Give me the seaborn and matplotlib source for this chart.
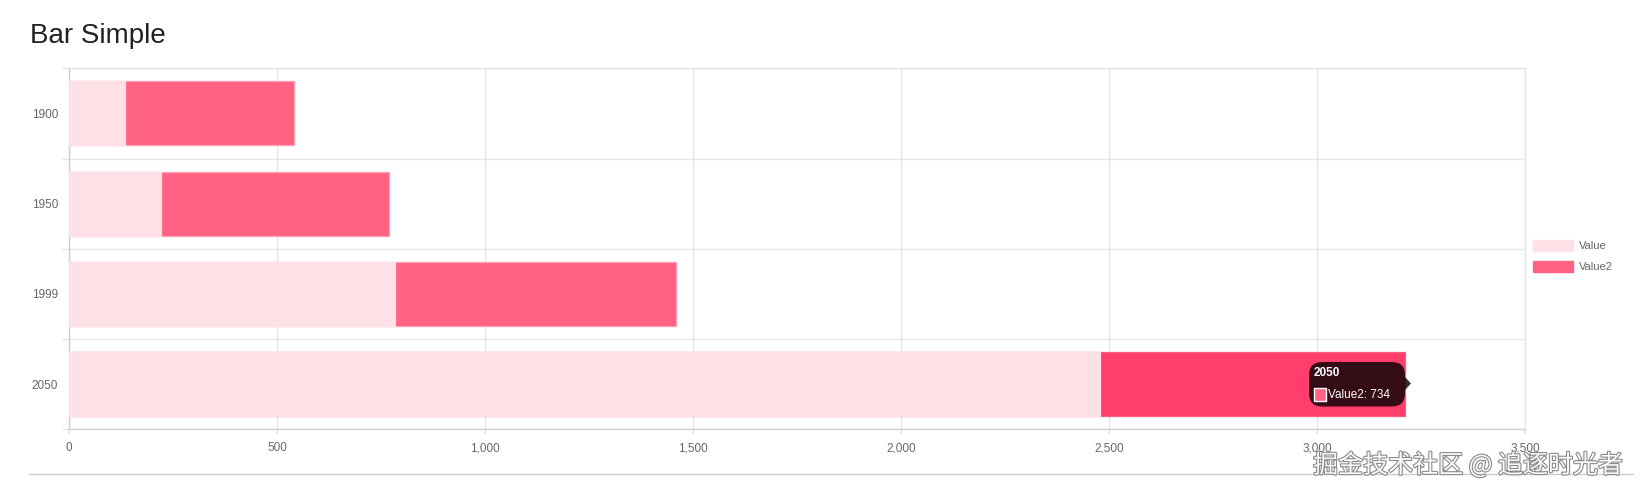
import matplotlib
matplotlib.use("Agg")
import matplotlib.pyplot as plt
import seaborn as sns
import pandas as pd
from matplotlib.patches import Patch, FancyBboxPatch, Polygon, Rectangle
from matplotlib.lines import Line2D
from matplotlib.ticker import FuncFormatter, FixedLocator
import matplotlib.patheffects as pe

# ---- data ----
years = ["1900", "1950", "1999", "2050"]
value = [133, 221, 783, 2478]
value2 = [408, 547, 675, 734]
x_ticks = [0, 500, 1000, 1500, 2000, 2500, 3000, 3500]
series_names = ["Value", "Value2"]
title = "Bar Simple"
tooltip_title = "2050"
tooltip_label = "Value2: 734"
watermark = "掘金技术社区 @ 追逐时光者"

df = pd.DataFrame({"year": years, "Value": value, "Value2": value2})
df["Total"] = df["Value"] + df["Value2"]

sns.set_theme(style="white")
plt.rcParams["font.family"] = ["Liberation Sans", "DejaVu Sans"]

W, H = 1641, 494
fig = plt.figure(figsize=(W / 100, H / 100), dpi=100)
fig.patch.set_facecolor("white")

L, R, T, B = 69.3, 1525.3, 68.3, 429.3
ax = fig.add_axes([L / W, 1 - B / H, (R - L) / W, (B - T) / H])

c_light = "#ffe0e6"
c_main = "#ff6384"
c_hover = "#ff3e6b"
grid_c = "#e6e6e6"
axis_c = "#cfcfcf"

sns.barplot(data=df, y="year", x="Total", order=years, orient="h", color=c_main,
            saturation=1, width=0.71, errorbar=None, ax=ax,
            edgecolor="#ff9db2", linewidth=0.9, zorder=2)
sns.barplot(data=df, y="year", x="Value", order=years, orient="h", color=c_light,
            saturation=1, width=0.71, errorbar=None, ax=ax,
            edgecolor=c_light, linewidth=0.9, zorder=3)
ax.containers[0].patches[3].set_facecolor(c_hover)
ax.containers[0].patches[3].set_edgecolor("#ff5c80")

ax.set_xlim(0, 3500)
ax.set_ylim(len(years) - 0.5, -0.5)
ax.set_xlabel("")
ax.set_ylabel("")

ax.xaxis.set_major_locator(FixedLocator(x_ticks))
ax.xaxis.set_major_formatter(FuncFormatter(lambda v, p: f"{int(v):,}"))
ax.grid(True, axis="x", color=grid_c, linewidth=1, zorder=0)
ax.set_axisbelow(True)

ax.yaxis.set_minor_locator(FixedLocator([i + 0.5 for i in range(-1, len(years))]))
ax.grid(True, axis="y", which="minor", color=grid_c, linewidth=1)
ax.grid(False, axis="y", which="major")

ax.tick_params(axis="x", which="major", length=3.5, color=grid_c, labelsize=8.5,
               labelcolor="#666666", pad=6, bottom=True)
ax.tick_params(axis="y", which="major", length=0, labelsize=8.5, labelcolor="#666666", pad=8)
ax.tick_params(axis="y", which="minor", length=5, color=grid_c, left=True)

for s in ["top", "right"]:
    ax.spines[s].set_color(grid_c)
    ax.spines[s].set_linewidth(1)
for s in ["left", "bottom"]:
    ax.spines[s].set_color(axis_c)
    ax.spines[s].set_linewidth(1)

# title
fig.text(30 / W, 1 - 42.6 / H, title, fontsize=20, color="#222222", va="baseline", ha="left")

# legend
handles = [Patch(facecolor=c_light, edgecolor=c_light), Patch(facecolor=c_main, edgecolor=c_main)]
leg = fig.legend(handles, series_names, loc="upper left",
                 bbox_to_anchor=(1532.7 / W, 1 - 240.0 / H), frameon=False,
                 fontsize=8, handlelength=3.6, handleheight=1.2, handletextpad=0.6,
                 labelspacing=0.85, borderpad=0, borderaxespad=0)
for t in leg.get_texts():
    t.set_color("#666666")

# tooltip (pixel -> figure fraction)
def fx(x):
    return x / W

def fy(y):
    return 1 - y / H

box = FancyBboxPatch((fx(1309), fy(406.5)), fx(1405) - fx(1309), fy(362) - fy(406.5),
                     boxstyle="round,pad=0,rounding_size=0.008", transform=fig.transFigure,
                     facecolor="black", alpha=0.8, edgecolor="none", mutation_aspect=W / H)
fig.add_artist(box)
caret = Polygon([(fx(1405), fy(377)), (fx(1411), fy(383.5)), (fx(1405), fy(390))],
                closed=True, transform=fig.transFigure, facecolor="black", alpha=0.8,
                edgecolor="none")
fig.add_artist(caret)
fig.text(fx(1314), fy(373), tooltip_title, fontsize=8.5, fontweight="bold", color="white",
         va="center", ha="left")
sq = Rectangle((fx(1313.5), fy(400.5)), fx(12.5), 12.5 / H, transform=fig.transFigure,
               facecolor=c_main, edgecolor="white", linewidth=1)
fig.add_artist(sq)
fig.text(fx(1328), fy(394.5), tooltip_label, fontsize=8.5, color="white", va="center", ha="left")

# bottom rule
fig.add_artist(Line2D([fx(29), fx(1633)], [fy(474), fy(474)], transform=fig.transFigure,
                      color="#cccccc", linewidth=1))

# watermark
wm = fig.text(fx(1623), fy(465.5), watermark, fontsize=18, color="#fafafa",
              family=["Noto Sans CJK SC", "DejaVu Sans"], ha="right", va="center")
wm.set_path_effects([pe.withStroke(linewidth=1.6, foreground="#8a8a8a")])

fig.savefig("out.png", dpi=100, facecolor="white")
